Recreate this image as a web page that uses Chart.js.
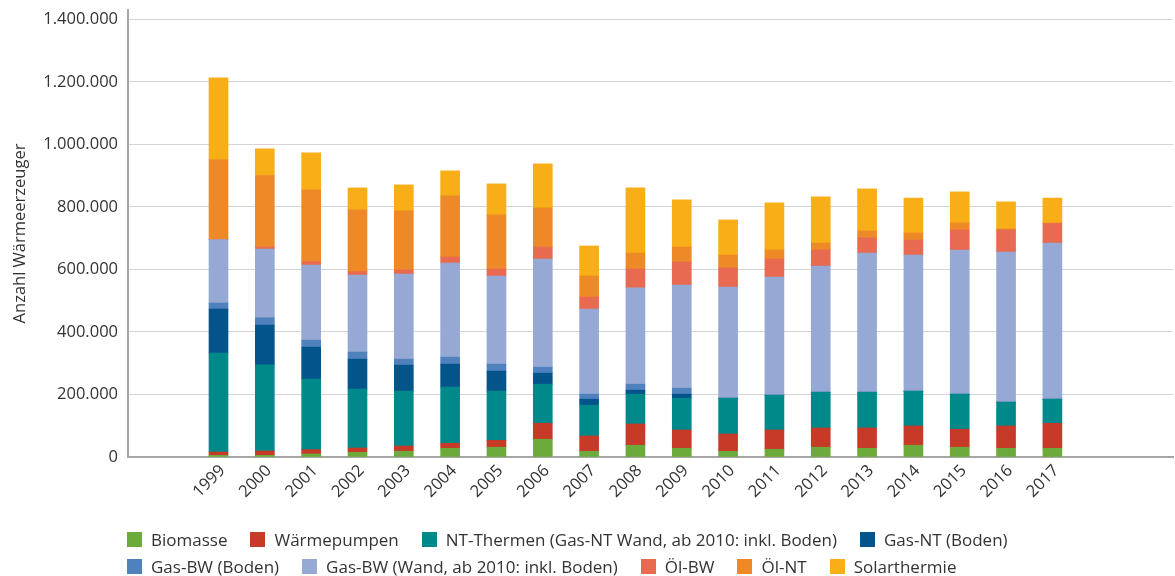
<!DOCTYPE html>
<html lang="de">
<head>
<meta charset="utf-8">
<script src="https://cdn.jsdelivr.net/npm/chart.js@4.4.1/dist/chart.umd.min.js"></script>
<style>
  body { margin: 0; background: #fff; font-family: 'Open Sans', sans-serif; }
  #wrap { position: relative; width: 1175px; height: 576px; }
  #legend {
    position: absolute; left: 127px; top: 526px; width: 920px;
    display: flex; flex-wrap: wrap; column-gap: 23px;
    font-size: 17px; color: #333;
  }
  #legend .item { display: flex; align-items: center; height: 27px; white-space: nowrap; }
  #legend .box { width: 15px; height: 15px; margin-right: 9px; }
</style>
</head>
<body>
<div id="wrap">
  <canvas id="chart" width="1175" height="576"></canvas>
  <div id="legend"></div>
</div>
<script>
const years = [1999, 2000, 2001, 2002, 2003, 2004, 2005, 2006, 2007, 2008,
  2009, 2010, 2011, 2012, 2013, 2014, 2015, 2016, 2017];

const biomasse = [5400, 5400, 9600, 15000, 18300, 27900, 31100, 56700, 18300, 37500,
  27900, 18300, 24700, 31100, 27900, 37500, 31100, 27900, 27900];
const waermepumpen = [10600, 13800, 14100, 13800, 16900, 16000, 22300, 51200, 49000, 68200,
  58600, 55400, 61800, 61800, 65000, 61800, 57700, 71400, 80000];
const ntThermen = [316300, 275600, 225300, 188100, 175300, 179400, 157100, 125000, 98400, 95200,
  101600, 114400, 111200, 114300, 114300, 111200, 112100, 76000, 77000];
const gasNtBoden = [141000, 127200, 102500, 96100, 83300, 73700, 64100, 35300, 19200, 12800,
  12800, 0, 0, 0, 0, 0, 0, 0, 0];
const gasBwBoden = [19200, 23400, 22400, 22500, 19200, 22400, 22400, 19200, 16000, 19200,
  19200, 0, 0, 0, 0, 0, 0, 0, 0];
const gasBwWand = [202800, 220100, 240300, 246600, 272400, 301200, 282000, 346000, 272400, 308600,
  330000, 355600, 378100, 403800, 445400, 435700, 461400, 480600, 499800];
const oelBw = [0, 6400, 10600, 10600, 12800, 19200, 22400, 38500, 38400, 59900,
  73700, 60900, 57600, 51300, 48200, 48100, 64000, 70700, 62200];
const oelNt = [256300, 228400, 229800, 197700, 189000, 195500, 173000, 124900, 67300, 51200,
  48100, 41600, 28900, 21800, 22400, 22500, 22600, 3000, 2000];
const solarthermie = [261400, 85600, 118500, 70500, 83300, 80100, 99300, 141000, 96100, 208300,
  150500, 112200, 150500, 147900, 134500, 111500, 99200, 86700, 79400];

const yTicks = [0, 200000, 400000, 600000, 800000, 1000000, 1200000, 1400000];

const series = [
  ['Biomasse', biomasse, '#6CAA3B'],
  ['Wärmepumpen', waermepumpen, '#C73A28'],
  ['NT-Thermen (Gas-NT Wand, ab 2010: inkl. Boden)', ntThermen, '#00898A'],
  ['Gas-NT (Boden)', gasNtBoden, '#02548A'],
  ['Gas-BW (Boden)', gasBwBoden, '#4F81BD'],
  ['Gas-BW (Wand, ab 2010: inkl. Boden)', gasBwWand, '#95A9D4'],
  ['Öl-BW', oelBw, '#E86A50'],
  ['Öl-NT', oelNt, '#EE8928'],
  ['Solarthermie', solarthermie, '#F8AE17']
];

function deFormat(v) {
  return String(v).replace(/\B(?=(\d{3})+(?!\d))/g, '.');
}

Chart.defaults.font.family = "'Open Sans', sans-serif";
Chart.defaults.color = '#333';

const chart = new Chart(document.getElementById('chart'), {
  type: 'bar',
  data: {
    datasets: series.map(([label, values, color]) => ({
      label: label,
      data: values.map((v, i) => ({ x: years[i], y: v })),
      backgroundColor: color,
      borderWidth: 0,
      barThickness: 19
    }))
  },
  options: {
    responsive: false,
    animation: false,
    layout: { padding: { left: 10, right: 2, top: 10, bottom: 59 } },
    plugins: {
      legend: { display: false },
      tooltip: { enabled: false }
    },
    scales: {
      x: {
        type: 'linear',
        stacked: true,
        min: 1997.64,
        max: 2019.01,
        afterBuildTicks: (scale) => { scale.ticks = years.map(v => ({ value: v })); },
        afterFit: (scale) => { scale.height = 60; scale.paddingLeft = 0; scale.paddingRight = 0; },
        grid: { display: false, drawTicks: false },
        border: { display: true, color: '#a6a6a6', width: 2 },
        ticks: {
          minRotation: 45,
          maxRotation: 45,
          padding: 4,
          labelOffset: 4,
          font: { size: 16.5 },
          color: '#333',
          callback: (v) => String(v)
        }
      },
      y: {
        stacked: true,
        min: 0,
        max: 1430000,
        afterBuildTicks: (scale) => { scale.ticks = yTicks.map(v => ({ value: v })); },
        afterFit: (scale) => { scale.width = 118; scale.paddingTop = 0; scale.paddingBottom = 0; },
        grid: { color: '#d4d4d4', lineWidth: 1, drawTicks: false },
        border: { display: true, color: '#a6a6a6', width: 2 },
        title: {
          display: true,
          text: 'Anzahl Wärmeerzeuger',
          font: { size: 16.5 },
          color: '#333',
          padding: 0
        },
        ticks: {
          padding: 10,
          font: { size: 16.5 },
          color: '#333',
          callback: (v) => deFormat(v)
        }
      }
    }
  }
});

const legendEl = document.getElementById('legend');
chart.data.datasets.forEach(ds => {
  const item = document.createElement('span');
  item.className = 'item';
  const box = document.createElement('span');
  box.className = 'box';
  box.style.background = ds.backgroundColor;
  item.appendChild(box);
  item.appendChild(document.createTextNode(ds.label));
  legendEl.appendChild(item);
});
</script>
</body>
</html>
